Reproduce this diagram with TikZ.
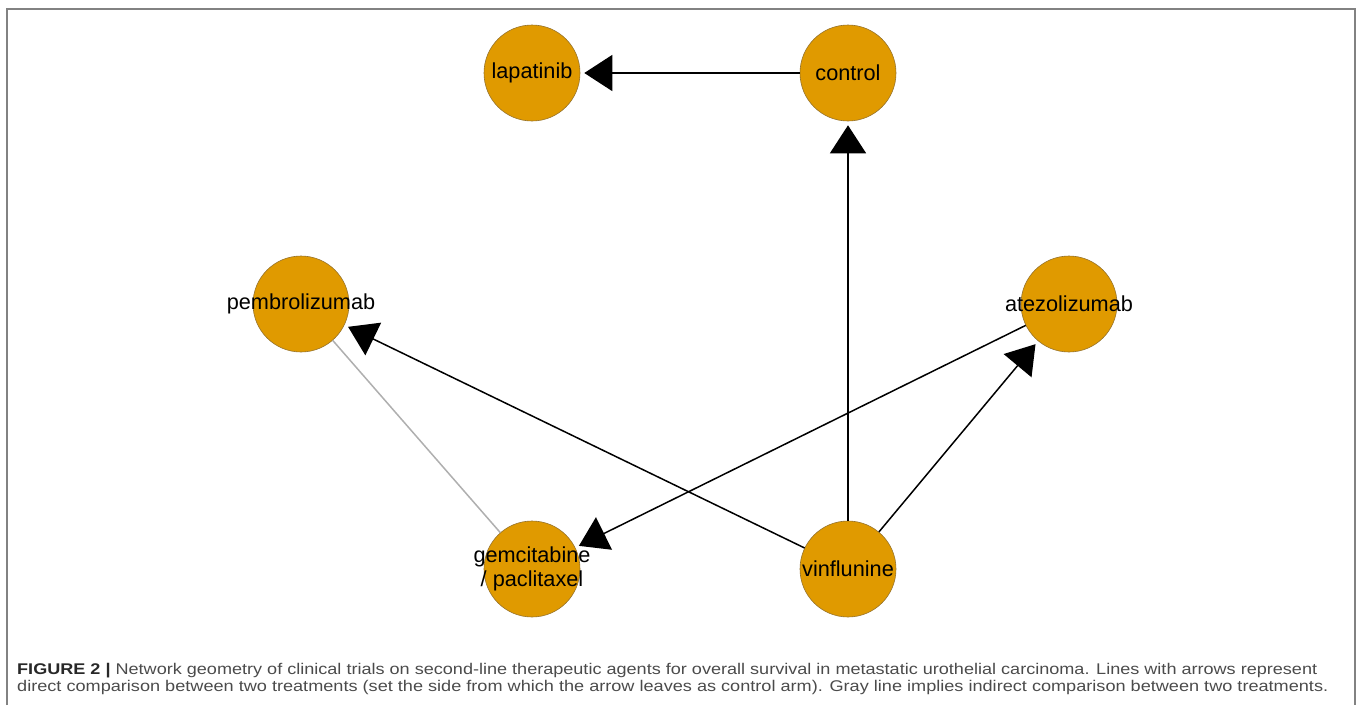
\documentclass[tikz,border=0pt]{standalone}
\usepackage{fontspec}
\setmainfont{Liberation Sans}
\usetikzlibrary{arrows.meta}
\definecolor{nodefill}{RGB}{224,154,0}
\definecolor{nodeline}{RGB}{150,115,45}
\definecolor{captext}{RGB}{75,75,75}
\definecolor{capbold}{RGB}{40,40,40}
\definecolor{framegray}{RGB}{130,130,130}
\definecolor{indgray}{RGB}{175,175,175}
\tikzset{
  drug/.style={circle, fill=nodefill, draw=nodeline, line width=0.6pt, minimum size=96pt, inner sep=0pt},
  lbl/.style={font=\fontsize{21.7}{25}\selectfont, align=center, inner sep=0pt, text=black},
  direct/.style={line width=1.5pt, draw=black, -{Triangle[length=28pt,width=36pt]}, shorten >=4pt},
  indirect/.style={line width=1.5pt, draw=indgray},
  captionline/.style={font=\fontsize{15.5}{18}\selectfont, text=captext, inner sep=0pt, anchor=base west}
}
\begin{document}
\begin{tikzpicture}[x=1pt,y=-1pt]
\useasboundingbox (0,0) rectangle (1360,705);
\draw[framegray, line width=1.5pt] (7,705) -- (7,9) -- (1355,9) -- (1355,705);
% nodes
\node[drug] (lap) at (532,73) {};
\node[drug] (ctrl) at (848,73) {};
\node[drug] (pem) at (301,304) {};
\node[drug] (ate) at (1069,304) {};
\node[drug] (gem) at (532,569) {};
\node[drug] (vin) at (848,569) {};
% connectors
\draw[indirect] (pem) -- (gem);
\draw[direct] (ctrl) -- (lap);
\draw[direct] (vin) -- (ctrl);
\draw[direct] (vin) -- (pem);
\draw[direct] (vin) -- (ate);
\draw[direct] (ate) -- (gem);
% labels
\node[lbl] (lapT) at (lap.center) {lapatinib};
\node[lbl] (ctrlT) at (ctrl.center) {control};
\node[lbl] (pemT) at (pem.center) {pembrolizumab};
\node[lbl] (ateT) at (ate.center) {atezolizumab};
\node[lbl] (gemT) at (gem.center) {gemcitabine\\[-1pt]/ paclitaxel};
\node[lbl] (vinT) at (vin.center) {vinflunine};
% caption
\node[captionline] (cap1) at (17,674) {\resizebox{1300pt}{\height}{{\color{capbold}\bfseries FIGURE 2 |} Network geometry of clinical trials on second-line therapeutic agents for overall survival in metastatic urothelial carcinoma. Lines with arrows represent}};
\node[captionline] (cap2) at (17,691) {\resizebox{1311pt}{\height}{direct comparison between two treatments (set the side from which the arrow leaves as control arm). Gray line implies indirect comparison between two treatments.}};
\end{tikzpicture}
\end{document}
